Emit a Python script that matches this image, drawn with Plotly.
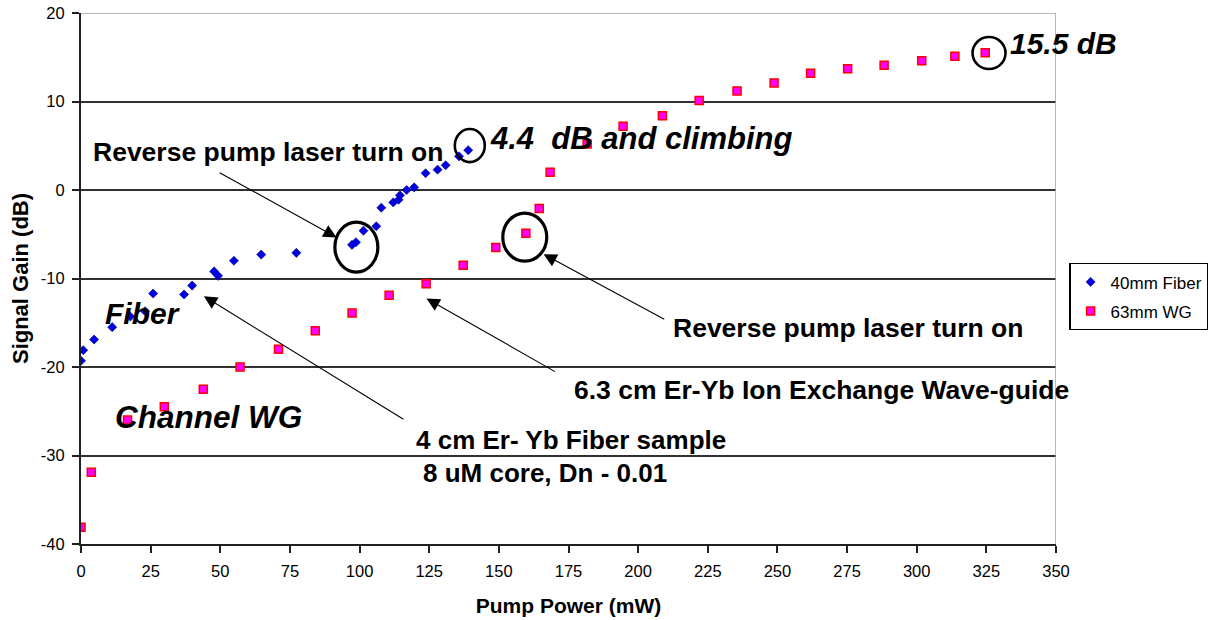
import plotly.graph_objects as go

# ---- data ----
fiber_power = [0, 0.8, 4.7, 11.2, 17.7, 23.0, 25.9, 37.0, 39.9, 47.8, 49.2, 54.9, 64.7, 77.3,
               97.3, 98.7, 101.4, 106.0, 107.8, 112.1, 114.0, 114.5, 116.9, 119.6, 123.7,
               128.0, 130.9, 135.7, 139.0]
fiber_gain = [-19.3, -18.1, -16.9, -15.5, -14.3, -13.7, -11.7, -11.8, -10.8, -9.2, -9.7, -8.0,
              -7.3, -7.1, -6.2, -5.9, -4.6, -4.1, -2.0, -1.4, -1.1, -0.6, 0.0, 0.3, 1.9, 2.3,
              2.8, 3.8, 4.5]
wg_power = [0, 3.7, 16.7, 29.9, 43.9, 57.1, 70.9, 84.1, 97.3, 110.6, 123.9, 137.2, 148.9,
            159.7, 164.5, 168.4, 181.7, 194.6, 208.7, 221.9, 235.5, 248.8, 261.9, 275.2,
            288.3, 301.8, 313.7, 324.6]
wg_gain = [-38.1, -31.9, -26.0, -24.5, -22.5, -20.0, -18.0, -15.9, -13.9, -11.9, -10.6, -8.5,
           -6.5, -4.9, -2.1, 2.0, 5.2, 7.2, 8.4, 10.1, 11.2, 12.1, 13.2, 13.7, 14.1, 14.6,
           15.1, 15.5]
x_ticks = [0, 25, 50, 75, 100, 125, 150, 175, 200, 225, 250, 275, 300, 325, 350]
y_ticks = [-40, -30, -20, -10, 0, 10, 20]
series_names = ["40mm Fiber", "63mm WG"]

# ---- layout geometry ----
W, H = 1214, 620
L, R, T, B = 81, 157.5, 13, 76.3
XMIN, XMAX, YMIN, YMAX = 0, 350, -40, 20
pw, ph = W - L - R, H - T - B

def px2x(px):
    return XMIN + (px - L) / pw * (XMAX - XMIN)

def px2y(py):
    return YMAX - (py - T) / ph * (YMAX - YMIN)

def px2px_paper(px):
    return (px - L) / pw

def py2py_paper(py):
    return (H - B - py) / ph

FONT = "Liberation Sans, Arial, sans-serif"

fig = go.Figure()
fig.add_trace(go.Scatter(
    x=fiber_power, y=fiber_gain, mode="markers", name=series_names[0],
    legendgroup="a",
    marker=dict(symbol="diamond", size=7, color="#0000e0",
                line=dict(width=0.6, color="#00008b"))))
fig.add_trace(go.Scatter(
    x=wg_power, y=wg_gain, mode="markers", name=series_names[1],
    legendgroup="b",
    marker=dict(symbol="square", size=8, color="#ff00ff",
                line=dict(width=1.5, color="#ff0000"))))

shapes = []
# gray top and right border
shapes.append(dict(type="line", xref="x", yref="y", x0=XMIN, x1=XMAX, y0=YMAX, y1=YMAX,
                   line=dict(color="#a0a0a0", width=1.5), layer="above"))
shapes.append(dict(type="line", xref="x", yref="y", x0=XMAX, x1=XMAX, y0=YMIN, y1=YMAX,
                   line=dict(color="#a0a0a0", width=1.5), layer="above"))
# circles (pixel boxes)
for (x0, x1, y0, y1, w) in [(335, 378, 222, 272, 3.2), (455, 485, 129, 162, 2.6),
                             (503, 547, 213, 261, 3.2), (973, 1006, 37, 69, 2.6)]:
    shapes.append(dict(type="circle", xref="x", yref="y",
                       x0=px2x(x0), x1=px2x(x1), y0=px2y(y1), y1=px2y(y0),
                       line=dict(color="black", width=w), layer="above"))

annotations = []
def text(px, py, s, size, italic=False):
    t = f"<b><i>{s}</i></b>" if italic else f"<b>{s}</b>"
    annotations.append(dict(x=px2px_paper(px), y=py2py_paper(py), xref="paper", yref="paper",
                            text=t, showarrow=False, xanchor="center", yanchor="middle",
                            font=dict(family=FONT, size=size, color="black")))

def arrow(tip, tail):
    annotations.append(dict(x=px2x(tip[0]), y=px2y(tip[1]), xref="x", yref="y", text="",
                            showarrow=True, ax=tail[0] - tip[0], ay=tail[1] - tip[1],
                            arrowhead=2, arrowsize=2.4, arrowwidth=1.1, arrowcolor="black",
                            standoff=0))

text(269, 152, "Reverse pump laser turn on", 26.5)
text(641, 138, "4.4\u00a0 dB and climbing", 31, italic=True)
text(1064, 43, "15.5 dB", 30, italic=True)
text(849, 328, "Reverse pump laser turn on", 26.5)
text(822, 390, "6.3 cm Er-Yb Ion Exchange Wave-guide", 26.5)
text(571, 440, "4 cm Er- Yb Fiber sample", 26)
text(545, 473, "8 uM core, Dn - 0.01", 26)
text(143, 313, "Fiber", 30, italic=True)
text(209, 417, "Channel WG", 31.5, italic=True)

arrow((336.7, 237.3), (218.3, 171.7))
arrow((204, 296), (405, 420))
arrow((426.7, 298.3), (556.7, 372.3))
arrow((543.8, 254), (666, 320))

fig.update_layout(
    width=W, height=H,
    margin=dict(l=L, r=R, t=T, b=B, autoexpand=False),
    paper_bgcolor="white", plot_bgcolor="white",
    font=dict(family=FONT, color="black"),
    shapes=shapes, annotations=annotations,
    showlegend=True,
    legend=dict(x=px2px_paper(1209), y=py2py_paper(263), xanchor="right", yanchor="top",
                bordercolor="black", borderwidth=1.2, bgcolor="white",
                font=dict(family=FONT, size=17, color="black"),
                tracegroupgap=4, itemwidth=30),
    xaxis=dict(range=[XMIN, XMAX], tickvals=x_ticks, ticktext=[str(v) for v in x_ticks],
               showgrid=False, zeroline=False, showline=True, linecolor="#202020",
               linewidth=2, ticks="outside", ticklen=7, tickwidth=1.5, tickcolor="#202020",
               ticklabelstandoff=4,
               tickfont=dict(family=FONT, size=16.5, color="black"),
               title=dict(text="<b>Pump Power (mW)</b>", font=dict(family=FONT, size=21),
                          standoff=20)),
    yaxis=dict(range=[YMIN, YMAX], tickvals=y_ticks, ticktext=[str(v) for v in y_ticks],
               showgrid=True, gridcolor="#303030", gridwidth=1.5, zeroline=False,
               showline=True, linecolor="#202020", linewidth=2, ticks="outside", ticklen=7,
               tickwidth=1.5, tickcolor="#202020", ticklabelstandoff=4,
               tickfont=dict(family=FONT, size=16.5, color="black"),
               title=dict(text="<b>Signal Gain (dB)</b>", font=dict(family=FONT, size=22),
                          standoff=6)),
)

fig.write_html("out.html", config={"displayModeBar": False},
               post_script="document.body.style.margin='0';document.body.style.padding='0';")
